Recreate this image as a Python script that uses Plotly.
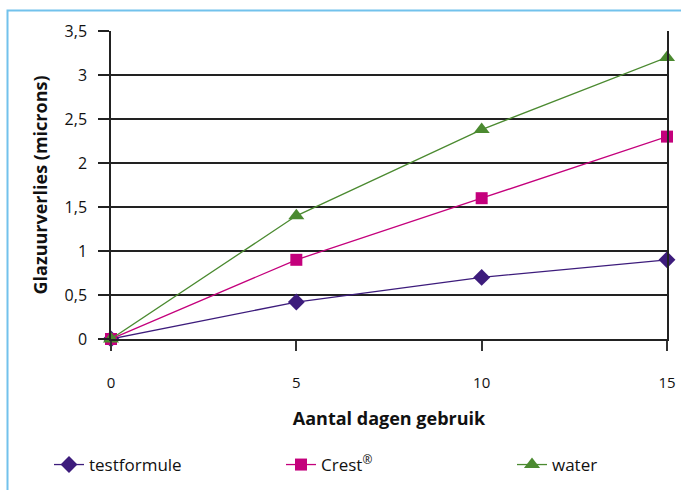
import plotly.graph_objects as go

days = [0, 5, 10, 15]
testformule = [0, 0.42, 0.70, 0.90]
crest = [0, 0.90, 1.60, 2.30]
water = [0, 1.40, 2.38, 3.20]
y_ticks = [0, 0.5, 1, 1.5, 2, 2.5, 3, 3.5]

FONT = "Open Sans"
fig = go.Figure()
fig.add_trace(go.Scatter(x=days, y=testformule, name="testformule", mode="lines+markers",
                         line=dict(color="#3d1c7c", width=1.3), legend="legend",
                         marker=dict(symbol="diamond", size=13, color="#3d1c7c"), cliponaxis=False))
fig.add_trace(go.Scatter(x=days, y=crest, name="Crest<sup>®</sup>", mode="lines+markers",
                         line=dict(color="#c4007c", width=1.3), legend="legend2",
                         marker=dict(symbol="square", size=12, color="#c4007c"), cliponaxis=False))
fig.add_trace(go.Scatter(x=days, y=water, name="water", mode="lines+markers",
                         line=dict(color="#4b8a30", width=1.3), legend="legend3",
                         marker=dict(symbol="triangle-up", size=14, color="#4b8a30"), cliponaxis=False))

W, H = 681, 490
ml, mr, mt, mb = 111, 14, 31, 151
pw, ph = W - ml - mr, H - mt - mb

def px(x):
    return (x - ml) / pw

def py(y):
    return (H - mb - y) / ph

def leg(x):
    return dict(orientation="h", x=px(x), y=py(465), yanchor="middle", xanchor="left",
                font=dict(family=FONT, size=17, color="#111"), bgcolor="rgba(0,0,0,0)")

fig.update_layout(
    width=W, height=H,
    margin=dict(l=ml, r=mr, t=mt, b=mb, autoexpand=False),
    paper_bgcolor="white", plot_bgcolor="white",
    separators=", ",
    font=dict(family=FONT, size=15, color="#111"),
    showlegend=True,
    legend=leg(49), legend2=leg(281), legend3=leg(512),
    xaxis=dict(range=[0, 15], tickvals=days, ticks="outside", ticklen=10, tickwidth=1.5,
               tickcolor="#333", showline=True, linecolor="#222", linewidth=1.5,
               showgrid=False, zeroline=False, ticklabelstandoff=19,
               tickfont=dict(family=FONT, size=15),
               title=dict(text="<b>Aantal dagen gebruik</b>", standoff=22,
                          font=dict(family=FONT, size=18))),
    yaxis=dict(range=[0, 3.5], tickvals=y_ticks, ticks="outside", ticklen=11, tickwidth=1.5,
               tickcolor="#222", showline=True, linecolor="#222", linewidth=1.5, mirror=True,
               showgrid=True, gridcolor="#222", gridwidth=1.5, zeroline=False,
               ticklabelstandoff=8, tickfont=dict(family=FONT, size=16),
               title=dict(text="<b>Glazuurverlies (microns)</b>", standoff=12,
                          font=dict(family=FONT, size=18))),
    shapes=[dict(type="rect", xref="paper", yref="paper",
                 x0=px(7.5), x1=px(700), y0=py(10.5), y1=py(520),
                 line=dict(color="#72c2ec", width=2), fillcolor="rgba(0,0,0,0)", layer="below")],
)

fig.write_html("out.html", config={"displayModeBar": False},
               post_script="document.body.style.margin='0';")
